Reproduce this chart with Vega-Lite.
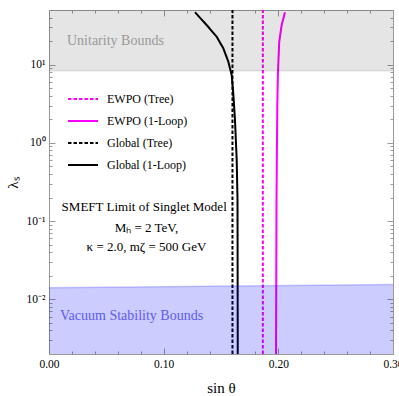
{
  "$schema": "https://vega.github.io/schema/vega-lite/v6.json",
  "width": 344,
  "height": 344,
  "autosize": {"type": "none"},
  "padding": {"left": 49, "top": 10, "right": 6, "bottom": 42},
  "background": "white",
  "config": {
    "view": {"stroke": "#999999", "strokeWidth": 1},
    "font": "Liberation Serif",
    "axis": {
      "domain": false,
      "grid": false,
      "labelFont": "Liberation Serif",
      "labelFontSize": 11.5,
      "labelColor": "#000000",
      "tickColor": "#999999",
      "titleFont": "Liberation Serif",
      "titleFontWeight": "normal",
      "titleColor": "#000000",
      "titleFontSize": 15
    }
  },
  "datasets": {
    "unit": [{"x": 0, "x2": 0.3, "y": 8.378, "y2": 50}],
    "vac": [{"x": 0, "y": 0.01406, "y0": 0.002}, {"x": 0.3, "y": 0.0155, "y0": 0.002}],
    "curves": [
      {"series": "EWPO (Tree)", "x": 0.1865, "y": 0.002},
      {"series": "EWPO (Tree)", "x": 0.1865, "y": 50},
      {"series": "EWPO (1-Loop)", "x": 0.198, "y": 0.002},
      {"series": "EWPO (1-Loop)", "x": 0.1984, "y": 0.186},
      {"series": "EWPO (1-Loop)", "x": 0.1991, "y": 3.05},
      {"series": "EWPO (1-Loop)", "x": 0.1997, "y": 8.13},
      {"series": "EWPO (1-Loop)", "x": 0.2008, "y": 19.7},
      {"series": "EWPO (1-Loop)", "x": 0.2029, "y": 32.1},
      {"series": "EWPO (1-Loop)", "x": 0.2058, "y": 46.8},
      {"series": "Global (Tree)", "x": 0.16, "y": 0.002},
      {"series": "Global (Tree)", "x": 0.16, "y": 50},
      {"series": "Global (1-Loop)", "x": 0.1646, "y": 0.002},
      {"series": "Global (1-Loop)", "x": 0.1644, "y": 0.186},
      {"series": "Global (1-Loop)", "x": 0.1637, "y": 0.604},
      {"series": "Global (1-Loop)", "x": 0.1622, "y": 1.96},
      {"series": "Global (1-Loop)", "x": 0.1607, "y": 4.3},
      {"series": "Global (1-Loop)", "x": 0.1593, "y": 7.38},
      {"series": "Global (1-Loop)", "x": 0.1564, "y": 10.9},
      {"series": "Global (1-Loop)", "x": 0.152, "y": 16.2},
      {"series": "Global (1-Loop)", "x": 0.1462, "y": 22.8},
      {"series": "Global (1-Loop)", "x": 0.1375, "y": 32.1},
      {"series": "Global (1-Loop)", "x": 0.1273, "y": 46.8}
    ],
    "unitText": [{"x": 0.0157, "y": 20.1, "text": "Unitarity Bounds"}],
    "vacText": [{"x": 0.0096, "y": 0.0061, "text": "Vacuum Stability Bounds"}],
    "note": [
      {"x": 0.083, "y": 0.151, "text": "SMEFT Limit of Singlet Model"},
      {"x": 0.085, "y": 0.0815, "text": "Mₕ = 2 TeV,"},
      {"x": 0.085, "y": 0.0466, "text": "κ = 2.0,  mζ = 500 GeV"}
    ],
    "mirror": [{"x": 0, "y": 1}]
  },
  "layer": [
    {
      "encoding": {
        "x": {
          "field": "x",
          "type": "quantitative",
          "scale": {"domain": [0, 0.3], "nice": false, "zero": false},
          "axis": {
            "title": "sin θ",
            "values": [0, 0.02, 0.04, 0.06, 0.08, 0.1, 0.12, 0.14, 0.16, 0.18, 0.2, 0.22, 0.24, 0.26, 0.28, 0.3],
            "labelExpr": "indexof([0, 0.1, 0.2, 0.3], datum.value) >= 0 ? format(datum.value, '.2f') : ''",
            "tickSize": {"condition": {"test": "indexof([0, 0.1, 0.2, 0.3], datum.value) >= 0", "value": -6}, "value": -3},
            "labelPadding": 10,
            "titlePadding": 8,
            "labelOverlap": false,
            "labelFlush": false
          }
        },
        "y": {
          "field": "y",
          "type": "quantitative",
          "scale": {"type": "log", "domain": [0.002, 50], "nice": false},
          "axis": {
            "title": "λₛ",
            "values": [0.002, 0.003, 0.004, 0.005, 0.006, 0.007, 0.008, 0.009, 0.01, 0.02, 0.03, 0.04, 0.05, 0.06, 0.07, 0.08, 0.09, 0.1, 0.2, 0.3, 0.4, 0.5, 0.6, 0.7, 0.8, 0.9, 1, 2, 3, 4, 5, 6, 7, 8, 9, 10, 20, 30, 40, 50],
            "labelExpr": "datum.value == 10 ? '10¹' : datum.value == 1 ? '10⁰' : datum.value == 0.1 ? '10⁻¹' : datum.value == 0.01 ? '10⁻²' : ''",
            "tickSize": {"condition": {"test": "indexof([0.01, 0.1, 1, 10], datum.value) >= 0", "value": -6}, "value": -3},
            "labelPadding": 10,
            "titlePadding": 6,
            "labelOverlap": false,
            "labelFlush": false
          }
        }
      },
      "layer": [
        {
          "data": {"name": "curves"},
          "mark": {"type": "line", "strokeWidth": 2, "clip": true},
          "encoding": {
            "color": {
              "field": "series",
              "type": "nominal",
              "scale": {
                "domain": ["EWPO (Tree)", "EWPO (1-Loop)", "Global (Tree)", "Global (1-Loop)"],
                "range": ["#ff00ff", "#ff00ff", "#000000", "#000000"]
              },
              "legend": {
                "orient": "none",
                "legendX": 18,
                "legendY": 73,
                "title": null,
                "symbolType": "stroke",
                "symbolSize": 900,
                "symbolStrokeWidth": 2,
                "labelFont": "Liberation Serif",
                "labelFontSize": 12,
                "labelOffset": 8,
                "rowPadding": 0
              }
            },
            "strokeDash": {
              "field": "series",
              "type": "nominal",
              "scale": {
                "domain": ["EWPO (Tree)", "EWPO (1-Loop)", "Global (Tree)", "Global (1-Loop)"],
                "range": [[3.5, 2], [1, 0], [3.5, 2], [1, 0]]
              },
              "legend": {
                "orient": "none",
                "legendX": 18,
                "legendY": 73,
                "title": null,
                "symbolType": "stroke",
                "symbolSize": 900,
                "symbolStrokeWidth": 2,
                "labelFont": "Liberation Serif",
                "labelFontSize": 12,
                "labelOffset": 8,
                "rowPadding": 0
              }
            },
            "order": {"field": "y", "type": "quantitative"}
          }
        },
        {
          "data": {"name": "unit"},
          "mark": {"type": "rect", "color": "#000000", "opacity": 0.1},
          "encoding": {"x2": {"field": "x2"}, "y2": {"field": "y2"}}
        },
        {
          "data": {"name": "unit"},
          "mark": {"type": "rule", "color": "#000000", "opacity": 0.08, "strokeWidth": 2},
          "encoding": {"x2": {"field": "x2"}}
        },
        {
          "data": {"name": "vac"},
          "mark": {"type": "area", "color": "#0000ff", "opacity": 0.2},
          "encoding": {"y2": {"field": "y0"}}
        },
        {
          "data": {"name": "vac"},
          "mark": {"type": "line", "color": "#0000ff", "opacity": 0.2, "strokeWidth": 1.5}
        },
        {
          "data": {"name": "unitText"},
          "mark": {"type": "text", "align": "left", "baseline": "middle", "font": "Liberation Serif", "fontSize": 14, "color": "#999999"},
          "encoding": {"text": {"field": "text"}}
        },
        {
          "data": {"name": "vacText"},
          "mark": {"type": "text", "align": "left", "baseline": "middle", "font": "Liberation Serif", "fontSize": 14, "color": "#5c5cf0"},
          "encoding": {"text": {"field": "text"}}
        },
        {
          "data": {"name": "note"},
          "mark": {"type": "text", "align": "center", "baseline": "middle", "font": "Liberation Serif", "fontSize": 13, "color": "#000000"},
          "encoding": {"text": {"field": "text"}}
        }
      ]
    },
    {
      "data": {"name": "mirror"},
      "mark": {"type": "point", "opacity": 0},
      "encoding": {
        "x": {
          "field": "x",
          "type": "quantitative",
          "scale": {"domain": [0, 0.3], "nice": false, "zero": false},
          "axis": {
            "orient": "top",
            "title": null,
            "labels": false,
            "values": [0, 0.02, 0.04, 0.06, 0.08, 0.1, 0.12, 0.14, 0.16, 0.18, 0.2, 0.22, 0.24, 0.26, 0.28, 0.3],
            "tickSize": {"condition": {"test": "indexof([0, 0.1, 0.2, 0.3], datum.value) >= 0", "value": -6}, "value": -3}
          }
        },
        "y": {
          "field": "y",
          "type": "quantitative",
          "scale": {"type": "log", "domain": [0.002, 50], "nice": false},
          "axis": {
            "orient": "right",
            "title": null,
            "labels": false,
            "values": [0.002, 0.003, 0.004, 0.005, 0.006, 0.007, 0.008, 0.009, 0.01, 0.02, 0.03, 0.04, 0.05, 0.06, 0.07, 0.08, 0.09, 0.1, 0.2, 0.3, 0.4, 0.5, 0.6, 0.7, 0.8, 0.9, 1, 2, 3, 4, 5, 6, 7, 8, 9, 10, 20, 30, 40, 50],
            "tickSize": {"condition": {"test": "indexof([0.01, 0.1, 1, 10], datum.value) >= 0", "value": -6}, "value": -3}
          }
        }
      }
    }
  ],
  "resolve": {"axis": {"x": "independent", "y": "independent"}}
}
